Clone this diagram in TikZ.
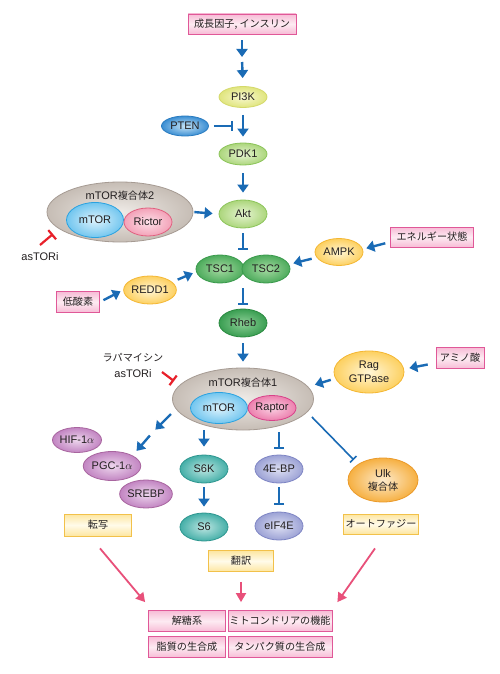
\documentclass[tikz,border=0pt]{standalone}
\usepackage{fontspec}
\setmainfont{Liberation Sans}
\newfontfamily\jp[Scale=0.92]{Noto Sans CJK JP}
\usetikzlibrary{shapes.geometric,arrows.meta,calc}
\definecolor{txt}{HTML}{231F20}
\definecolor{ablue}{HTML}{1A6BB5}
\definecolor{apink}{HTML}{E8507A}
\definecolor{ared}{HTML}{E8202A}
\tikzset{
  ell/.style={ellipse,inner sep=0pt,line width=0.8pt,minimum width=48pt,minimum height=28pt},
  cl/.style n args={3}{draw=#1,inner color=#2,outer color=#3},
  cPI/.style={cl={D4D96A}{F8F8D0}{E0E57E}},
  cGL/.style={cl={8CC45A}{E6F4D2}{ACD67C}},
  cTSC/.style={cl={3A9A4C}{A6DAA2}{4DAB5C}},
  cRheb/.style={cl={2A8A40}{8CCF96}{3A9E52}},
  cPTEN/.style={cl={2A7CC0}{C6E4F6}{3A8ED3}},
  cMTOR/.style={cl={2AA2E0}{DDF2FC}{72C6EF}},
  cRic/.style={cl={E0607F}{FCE0E8}{F3A2B8}},
  cRap/.style={cl={D8428A}{FAD0E2}{EC80AE}},
  cGray/.style={cl={A69B93}{EFEBE7}{C6BDB5}},
  cYel/.style={cl={F4B733}{FFF6D6}{FDD060}},
  cUlk/.style={cl={EB9A2A}{FDEACB}{F6B042}},
  cPur/.style={cl={A8659F}{EDD6ED}{C285C2}},
  cTeal/.style={cl={2E968F}{BDE6E2}{45AFA8}},
  cLav/.style={cl={7E85C4}{DEE0F3}{9CA2D5}},
  pbox/.style={rectangle,inner sep=0pt,line width=0.8pt,draw=E05898,top color=F7BCD6,bottom color=F7BCD6,middle color=FDEBF2,minimum height=20pt},
  ybox/.style={rectangle,inner sep=0pt,line width=0.8pt,draw=F2C14A,top color=FDE6A0,bottom color=FDE6A0,middle color=FFFBEA,minimum height=21pt},
  act/.style={-{Triangle[width=11pt,length=8pt]},line width=2.4pt,draw=ablue},
  inh/.style={-{Bar[width=10pt,line width=2pt]},line width=2pt,draw=ablue},
  thininh/.style={-{Bar[width=9pt,line width=1.6pt]},line width=1.6pt,draw=ablue},
  redinh/.style={-{Bar[width=12pt,line width=2.2pt]},line width=2.2pt,draw=ared},
  pinkarr/.style={-{Triangle[width=10pt,length=9pt]},line width=1.8pt,draw=apink},
}
\definecolor{E05898}{HTML}{E05898}
\definecolor{F7BCD6}{HTML}{F7BCD6}
\definecolor{FDEBF2}{HTML}{FDEBF2}
\definecolor{F2C14A}{HTML}{F2C14A}
\definecolor{FDE6A0}{HTML}{FDE6A0}
\definecolor{FFFBEA}{HTML}{FFFBEA}
\definecolor{D4D96A}{HTML}{D4D96A}\definecolor{F8F8D0}{HTML}{F8F8D0}\definecolor{E0E57E}{HTML}{E0E57E}
\definecolor{8CC45A}{HTML}{8CC45A}\definecolor{E6F4D2}{HTML}{E6F4D2}\definecolor{ACD67C}{HTML}{ACD67C}
\definecolor{3A9A4C}{HTML}{3A9A4C}\definecolor{A6DAA2}{HTML}{A6DAA2}\definecolor{4DAB5C}{HTML}{4DAB5C}
\definecolor{2A8A40}{HTML}{2A8A40}\definecolor{8CCF96}{HTML}{8CCF96}\definecolor{3A9E52}{HTML}{3A9E52}
\definecolor{2A7CC0}{HTML}{2A7CC0}\definecolor{C6E4F6}{HTML}{C6E4F6}\definecolor{3A8ED3}{HTML}{3A8ED3}
\definecolor{2AA2E0}{HTML}{2AA2E0}\definecolor{DDF2FC}{HTML}{DDF2FC}\definecolor{72C6EF}{HTML}{72C6EF}
\definecolor{E0607F}{HTML}{E0607F}\definecolor{FCE0E8}{HTML}{FCE0E8}\definecolor{F3A2B8}{HTML}{F3A2B8}
\definecolor{D8428A}{HTML}{D8428A}\definecolor{FAD0E2}{HTML}{FAD0E2}\definecolor{EC80AE}{HTML}{EC80AE}
\definecolor{A69B93}{HTML}{A69B93}\definecolor{EFEBE7}{HTML}{EFEBE7}\definecolor{C6BDB5}{HTML}{C6BDB5}
\definecolor{F4B733}{HTML}{F4B733}\definecolor{FFF6D6}{HTML}{FFF6D6}\definecolor{FDD060}{HTML}{FDD060}
\definecolor{EB9A2A}{HTML}{EB9A2A}\definecolor{FDEACB}{HTML}{FDEACB}\definecolor{F6B042}{HTML}{F6B042}
\definecolor{A8659F}{HTML}{A8659F}\definecolor{EDD6ED}{HTML}{EDD6ED}\definecolor{C285C2}{HTML}{C285C2}
\definecolor{2E968F}{HTML}{2E968F}\definecolor{BDE6E2}{HTML}{BDE6E2}\definecolor{45AFA8}{HTML}{45AFA8}
\definecolor{7E85C4}{HTML}{7E85C4}\definecolor{DEE0F3}{HTML}{DEE0F3}\definecolor{9CA2D5}{HTML}{9CA2D5}
\begin{document}
\begin{tikzpicture}[x=1pt,y=-1pt,font=\fontsize{11}{13}\selectfont,text=txt]
\fill[white] (0,0) rectangle (500,674);
\useasboundingbox (0,0) rectangle (500,674);
% top
\node[pbox,minimum width=108pt] (gf) at (242,24) {\jp 成長因子, インスリン};
\coordinate (mid0) at (242,59);
\node[ell,cPI,minimum height=21pt] (pi3k) at (243,97) {PI3K};
\node[ell,cPTEN,minimum width=47pt,minimum height=20pt] (pten) at (185,126) {PTEN};
\coordinate (ptent) at (233,126);
\node[ell,cGL,minimum height=22pt] (pdk1) at (243,154) {PDK1};
\node[ell,cGL] (akt) at (243,214) {Akt};
% mTORC2
\node[ell,cGray,minimum width=146pt,minimum height=60pt] (mtorc2) at (120,212) {};
\node (c2lab) at (120,196) {mTOR{\jp 複合体}2};
\node[ell,cMTOR,minimum width=57pt,minimum height=35pt] (mtor2) at (95,220) {mTOR};
\node[ell,cRic] (rictor) at (148,222) {Rictor};
\node (astori2) at (40,257) {asTORi};
\coordinate (r2a) at (40,245);
\coordinate (r2b) at (53,234);
% TSC
\node[ell,cTSC] (tsc1) at (220,269) {TSC1};
\node[ell,cTSC] (tsc2) at (266,269) {TSC2};
\node[ell,cYel,minimum height=27pt] (ampk) at (339,252) {AMPK};
\node[pbox,minimum width=83pt] (energy) at (432,237) {\jp エネルギー状態};
\node[ell,cYel,minimum width=47pt] (redd1) at (150,290) {REDD1};
\node[pbox,minimum width=43pt,minimum height=21pt] (hypox) at (78,302) {\jp 低酸素};
\node[ell,cRheb] (rheb) at (243,323) {Rheb};
% mTORC1
\node[ell,cGray,minimum width=141pt,minimum height=62pt] (mtorc1) at (243,399) {};
\node (c1lab) at (243,383) {mTOR{\jp 複合体}1};
\node[ell,cMTOR,minimum width=57pt,minimum height=31pt] (mtor1) at (219,408) {mTOR};
\node[ell,cRap,minimum height=25pt] (raptor) at (272,408) {Raptor};
\node[align=center,font=\fontsize{11}{16}\selectfont] (rapa) at (133,365) {{\jp ラパマイシン}\\asTORi};
\coordinate (r1a) at (162,372);
\coordinate (r1b) at (174,381);
\node[ell,cYel,minimum width=70pt,minimum height=42pt,align=center,font=\fontsize{11}{14}\selectfont] (rag) at (369,372) {Rag\\GTPase};
\node[pbox,minimum width=48pt,minimum height=21pt] (amino) at (460,358) {\jp アミノ酸};
\node[ell,cUlk,minimum width=70pt,minimum height=44pt,align=center,font=\fontsize{11}{13}\selectfont] (ulk) at (383,480) {Ulk\\{\jp 複合体}};
\node[ybox,minimum width=75pt,minimum height=20pt] (autoph) at (381,524) {\jp オートファジー};
% downstream
\node[ell,cPur,minimum width=49pt,minimum height=25pt] (hif) at (77,440) {HIF-1$\alpha$};
\node[ell,cPur,minimum width=52pt,minimum height=29pt] (pgc) at (112,466) {PGC-1$\alpha$};
\node[ell,cPur] (srebp) at (146,494) {SREBP};
\coordinate (m1a) at (171,414);
\coordinate (m1b) at (152.5,432.5);
\node[ell,cTeal] (s6k) at (204,469) {S6K};
\node[ell,cTeal] (s6) at (204,527) {S6};
\node[ybox,minimum width=67pt,minimum height=22pt] (tx) at (98,525) {\jp 転写};
\node[ell,cLav] (ebp) at (279,469) {4E-BP};
\node[ell,cLav] (eif) at (279,526) {eIF4E};
\node[ybox,minimum width=65pt] (tl) at (241,561) {\jp 翻訳};
% bottom
\node[pbox,minimum width=77pt,minimum height=21pt] (b1) at (187,621) {\jp 解糖系};
\node[pbox,minimum width=104pt,minimum height=21pt] (b2) at (280,621) {\jp ミトコンドリアの機能};
\node[pbox,minimum width=77pt,minimum height=21pt] (b3) at (187,647) {\jp 脂質の生合成};
\node[pbox,minimum width=104pt,minimum height=21pt] (b4) at (280,647) {\jp タンパク質の生合成};
% connectors
\draw[act,shorten <=6pt,shorten >=2pt] (gf.south) -- (mid0);
\draw[act,shorten <=3pt,shorten >=8pt] (mid0) -- (pi3k.north);
\draw[inh,shorten <=5pt] (pten.east) -- (ptent);
\draw[act,shorten <=7pt,shorten >=6pt] (pi3k.south) -- (pdk1.north);
\draw[act,shorten <=8pt,shorten >=7pt] (pdk1.south) -- (akt.north);
\draw[act,shorten <=1pt,shorten >=6pt] (mtorc2.east) -- (akt.west);
\draw[redinh] (r2a) -- (r2b);
\draw[inh,shorten <=5pt,shorten >=5pt] (akt.south) -- (akt.south |- tsc1.north);
\draw[act,shorten <=5pt,shorten >=3pt] ($(energy.west)+(0,5)$) -- ($(ampk.east)+(0,-3)$);
\draw[act,shorten <=3pt,shorten >=3pt] ($(ampk.west)+(0,6)$) -- ($(tsc2.east)+(0,-5)$);
\draw[act,shorten <=4pt,shorten >=3pt] (hypox.east) -- (redd1.west);
\draw[act,shorten <=1pt,shorten >=3pt] ($(redd1.east)+(0,-10)$) -- ($(tsc1.west)+(0,3)$);
\draw[inh,shorten <=5pt,shorten >=4pt] (tsc1.south -| rheb.north) -- (rheb.north);
\draw[act,shorten <=6pt,shorten >=6pt] (rheb.south) -- (mtorc1.north);
\draw[redinh] (r1a) -- (r1b);
\draw[act,shorten <=3pt,shorten >=1pt] ($(rag.west)+(0,7)$) -- ($(mtorc1.east)+(0,-14)$);
\draw[act,shorten <=8pt,shorten >=5pt] ($(amino.west)+(0,5)$) -- ($(rag.east)+(0,-3)$);
\draw[thininh,shorten >=6pt] ($(mtorc1.east)+(-2,18)$) -- (ulk.north west);
\draw[act,shorten >=4pt] (m1a) -- (m1b);
\draw[act,shorten <=4pt,shorten >=6pt] (m1b) -- (pgc.north east);
\draw[act,shorten >=8pt] (s6k.north |- mtorc1.south) -- (s6k.north);
\draw[act,shorten <=4pt,shorten >=6pt] (s6k.south) -- (s6.north);
\draw[inh,shorten <=2pt,shorten >=6pt] (ebp.north |- mtorc1.south) -- (ebp.north);
\draw[inh,shorten <=4pt,shorten >=7pt] (ebp.south) -- (eif.north);
\draw[pinkarr,shorten <=10pt,shorten >=8pt] (tl.south) -- (tl.south |- b2.north);
\draw[pinkarr] ($(tx.south)+(2,12)$) -- ($(b1.north west)+(-3,-8)$);
\draw[pinkarr] ($(autoph.south)+(-6,14)$) -- ($(b2.north east)+(5,-8)$);
\end{tikzpicture}
\end{document}
